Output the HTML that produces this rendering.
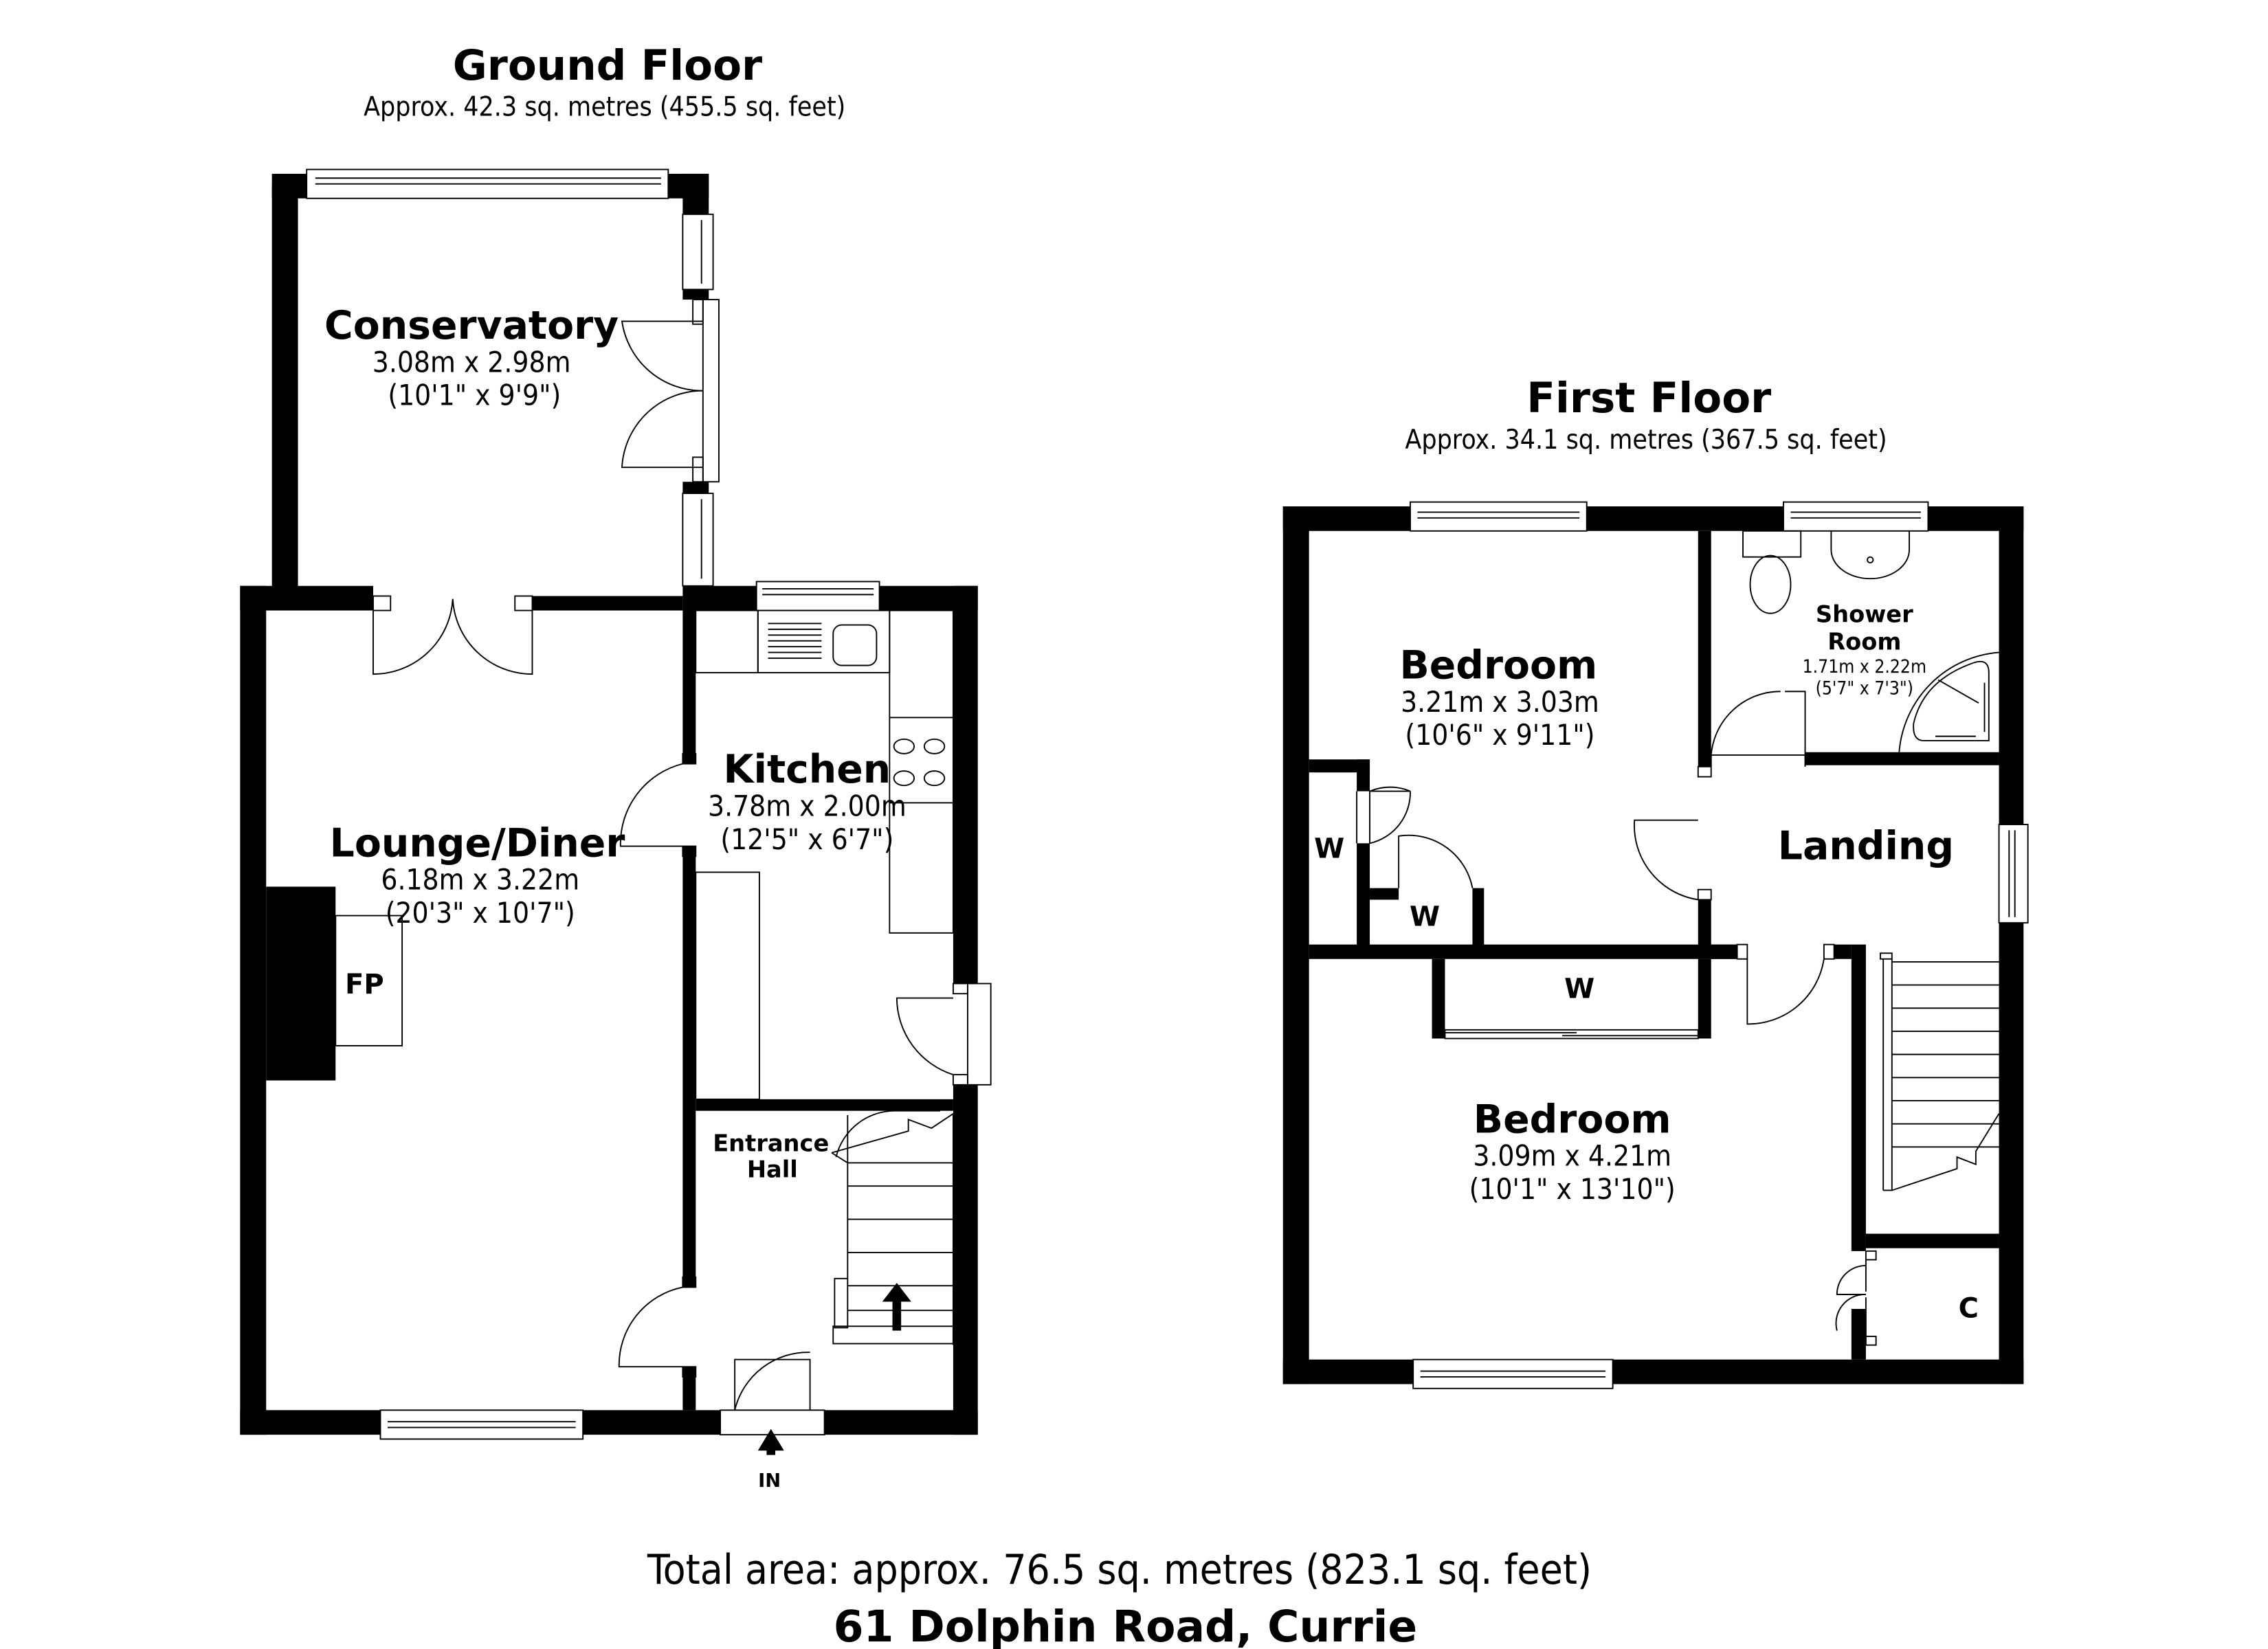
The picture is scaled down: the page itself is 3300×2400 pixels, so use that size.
<!DOCTYPE html>
<html><head><meta charset="utf-8"><style>
html,body{margin:0;padding:0;background:#fff}
svg{display:block}
text{font-family:"DejaVu Sans","Liberation Sans",sans-serif;fill:#000}
.b{font-weight:bold}
.c{font-family:"DejaVu Sans Condensed","DejaVu Sans","Liberation Sans",sans-serif}
</style></head><body>
<svg width="3300" height="2400" viewBox="0 0 1568 1140" xmlns="http://www.w3.org/2000/svg">
<rect width="1568" height="1140" fill="#fff"/>
<!-- titles -->
<text x="420" y="55" class="b" font-size="29" text-anchor="middle">Ground Floor</text>
<text x="418" y="80" class="c" font-size="18.5" text-anchor="middle">Approx. 42.3 sq. metres (455.5 sq. feet)</text>
<text x="1140" y="285" class="b" font-size="29" text-anchor="middle">First Floor</text>
<text x="1138" y="310" class="c" font-size="18.5" text-anchor="middle">Approx. 34.1 sq. metres (367.5 sq. feet)</text>
<text x="774" y="1095" class="c" font-size="28.5" text-anchor="middle">Total area: approx. 76.5 sq. metres (823.1 sq. feet)</text>
<text x="778" y="1135" class="b" font-size="30" text-anchor="middle">61 Dolphin Road, Currie</text>

<g fill="#000">
<rect x="188" y="127" width="18" height="290"/>
<rect x="188" y="120" width="24" height="17"/>
<rect x="462" y="120" width="28" height="17"/>
<rect x="472" y="120" width="18" height="28"/>
<rect x="472" y="200" width="18" height="7"/>
<rect x="472" y="333" width="18" height="8"/>
<rect x="166" y="405" width="18" height="587"/>
<rect x="166" y="405" width="92" height="17"/>
<rect x="368" y="412" width="104" height="10"/>
<rect x="472" y="405" width="51" height="17"/>
<rect x="608" y="405" width="68" height="17"/>
<rect x="659" y="405" width="17" height="275"/>
<rect x="659" y="750" width="17" height="242"/>
<rect x="166" y="975" width="97" height="17"/>
<rect x="403" y="975" width="95" height="17"/>
<rect x="570" y="975" width="106" height="17"/>
<rect x="472" y="422" width="9" height="106"/>
<rect x="472" y="585" width="9" height="305"/>
<rect x="472" y="945" width="9" height="30"/>
<rect x="481" y="760" width="178" height="8"/>
<rect x="184" y="613" width="48" height="134"/>

<rect x="887" y="350" width="88" height="17"/>
<rect x="1097" y="350" width="136" height="17"/>
<rect x="1333" y="350" width="66" height="17"/>
<rect x="887" y="350" width="18" height="607"/>
<rect x="1382" y="350" width="17" height="220"/>
<rect x="1382" y="638" width="17" height="319"/>
<rect x="887" y="940" width="90" height="17"/>
<rect x="1115" y="940" width="284" height="17"/>
<rect x="1174" y="367" width="9" height="163"/>
<rect x="1174" y="622" width="9" height="41"/>
<rect x="1248" y="520" width="134" height="9"/>
<rect x="905" y="653" width="296" height="10"/>
<rect x="1183" y="653" width="18" height="10"/>
<rect x="1268" y="653" width="12" height="10"/>
<rect x="1280" y="653" width="10" height="212"/>
<rect x="1280" y="905" width="10" height="35"/>
<rect x="1290" y="853" width="92" height="10"/>
<rect x="905" y="525" width="42" height="9"/>
<rect x="938" y="525" width="9" height="22"/>
<rect x="938" y="583" width="9" height="72"/>
<rect x="947" y="614" width="20" height="8"/>
<rect x="1018" y="614" width="8" height="42"/>
<rect x="990" y="663" width="9" height="55"/>
<rect x="1174" y="663" width="9" height="55"/>
<polygon points="533,988 524,1003 542,1003"/>
<rect x="530" y="1002" width="6" height="4"/>
<polygon points="620,887 610,900 630,900"/>
<rect x="617" y="899" width="6" height="21"/>
</g>

<g fill="none" stroke="#000" stroke-width="0.9">
<rect x="212" y="117" width="250" height="20"/>
<line x1="218" y1="123" x2="457" y2="123"/><line x1="218" y1="127" x2="457" y2="127"/>
<rect x="472" y="148" width="21" height="52"/><line x1="485" y1="152" x2="485" y2="196"/>
<rect x="472" y="341" width="21" height="64"/><line x1="485" y1="345" x2="485" y2="400"/>
<rect x="486" y="207" width="11" height="126"/>
<rect x="479" y="207" width="7" height="17"/><rect x="479" y="316" width="7" height="17"/>
<path d="M486,270 A56,56 0 0 1 430,222 L486,222"/>
<path d="M486,270 A56,56 0 0 0 430,323 L486,323"/>
<rect x="258" y="412" width="12" height="10"/><rect x="356" y="412" width="12" height="10"/>
<path d="M258,422 L258,466 A55,55 0 0 0 313,414 A55,55 0 0 0 368,466 L368,422"/>
<rect x="523" y="402" width="85" height="20"/><line x1="527" y1="407" x2="604" y2="407"/><line x1="527" y1="411" x2="604" y2="411"/>
<rect x="481" y="422" width="43" height="43"/>
<rect x="524" y="422" width="91" height="43"/>
<rect x="615" y="422" width="44" height="223"/>
<line x1="615" y1="496" x2="659" y2="496"/><line x1="615" y1="555" x2="659" y2="555"/>
<g><line x1="531" y1="431" x2="568" y2="431"/><line x1="531" y1="435" x2="568" y2="435"/><line x1="531" y1="439" x2="568" y2="439"/><line x1="531" y1="443" x2="568" y2="443"/><line x1="531" y1="447" x2="568" y2="447"/><line x1="531" y1="451" x2="568" y2="451"/><line x1="531" y1="455" x2="568" y2="455"/></g>
<rect x="576" y="432" width="30" height="28" rx="6"/>
<ellipse cx="625" cy="516" rx="7" ry="5"/><ellipse cx="646" cy="516" rx="7" ry="5"/><ellipse cx="625" cy="538" rx="7" ry="5"/><ellipse cx="646" cy="538" rx="7" ry="5"/>
<rect x="481" y="603" width="44" height="157"/>
<rect x="472" y="521" width="9" height="7"/><rect x="472" y="585" width="9" height="7"/>
<path d="M472,528 A57,57 0 0 0 429,585 L472,585"/>
<rect x="669" y="680" width="16" height="70"/>
<rect x="659" y="680" width="10" height="7"/><rect x="659" y="743" width="10" height="7"/>
<path d="M659,743 A56,56 0 0 1 620,690 L659,690"/>
<rect x="263" y="975" width="140" height="20"/><line x1="268" y1="983" x2="398" y2="983"/><line x1="268" y1="987" x2="398" y2="987"/>
<rect x="232" y="633" width="46" height="90"/>
<rect x="472" y="883" width="9" height="7"/><rect x="472" y="945" width="9" height="7"/>
<path d="M472,890 A55,55 0 0 0 428,945 L472,945"/>
<rect x="498" y="975" width="72" height="17"/>
<path d="M508,975 L508,940 L560,940 L560,975 M508,975 A52,52 0 0 1 560,935"/>
<rect x="576" y="917" width="83" height="12"/>
<rect x="577" y="884" width="9" height="34"/>
<line x1="586" y1="884" x2="586" y2="771"/>
<line x1="586" y1="820" x2="659" y2="820"/><line x1="586" y1="843" x2="659" y2="843"/><line x1="586" y1="866" x2="659" y2="866"/><line x1="586" y1="889" x2="659" y2="889"/><line x1="586" y1="906" x2="659" y2="906"/>
<path d="M575,797 L628,782 L628,774 L644,780 L659,770 L659,930"/>
<path d="M575,797 L586,804 L659,804"/>
<path d="M578,800 A42,42 0 0 1 620,768 L650,768"/>

<rect x="975" y="347" width="122" height="20"/><line x1="980" y1="354" x2="1092" y2="354"/><line x1="980" y1="358" x2="1092" y2="358"/>
<rect x="1233" y="347" width="100" height="20"/><line x1="1238" y1="354" x2="1328" y2="354"/><line x1="1238" y1="358" x2="1328" y2="358"/>
<rect x="977" y="940" width="138" height="20"/><line x1="982" y1="948" x2="1110" y2="948"/><line x1="982" y1="952" x2="1110" y2="952"/>
<rect x="1382" y="570" width="20" height="68"/><line x1="1389" y1="574" x2="1389" y2="634"/><line x1="1393" y1="574" x2="1393" y2="634"/>
<rect x="1205" y="367" width="40" height="18"/>
<ellipse cx="1224" cy="404" rx="14" ry="20"/>
<path d="M1266,367 L1266,380 A27,20 0 0 0 1320,380 L1320,367"/>
<circle cx="1293" cy="387" r="2"/>
<path d="M1382,451 A75,75 0 0 0 1313,520"/>
<path d="M1330,512 Q1322,512 1323,500 Q1330,470 1365,458 Q1375,455 1375,465 L1375,512 Z"/>
<path d="M1340,470 L1368,486 M1338,509 L1366,509 M1372,472 L1372,506"/>
<rect x="1174" y="530" width="9" height="7"/><rect x="1174" y="615" width="9" height="7"/>
<path d="M1183,530 L1183,522 L1248,522 L1248,530"/>
<path d="M1248,529 L1248,478 L1234,478 M1183,530 A48,48 0 0 1 1231,478"/>
<path d="M1174,622 A52,52 0 0 1 1130,567 L1174,567"/>
<path d="M938,547 L938,583 M947,547 A36,36 0 0 1 975,547 L947,547 L947,583 A36,36 0 0 0 975,547"/>
<path d="M967,614 L967,578 A45,45 0 0 1 1018,614"/>
<rect x="1201" y="653" width="7" height="10"/><rect x="1261" y="653" width="7" height="10"/>
<path d="M1208,663 L1208,708 A53,53 0 0 0 1261,663"/>
<rect x="999" y="712" width="175" height="6"/>
<line x1="999" y1="714" x2="1090" y2="714"/><line x1="1080" y1="716" x2="1174" y2="716"/>
<rect x="1300" y="659" width="8" height="4"/>
<line x1="1302" y1="663" x2="1302" y2="823"/><line x1="1308" y1="663" x2="1308" y2="823"/>
<line x1="1308" y1="665" x2="1382" y2="665"/>
<line x1="1308" y1="681" x2="1382" y2="681"/><line x1="1308" y1="697" x2="1382" y2="697"/><line x1="1308" y1="713" x2="1382" y2="713"/><line x1="1308" y1="729" x2="1382" y2="729"/><line x1="1308" y1="745" x2="1382" y2="745"/><line x1="1308" y1="761" x2="1382" y2="761"/><line x1="1308" y1="777" x2="1382" y2="777"/><line x1="1308" y1="793" x2="1382" y2="793"/>
<path d="M1302,823 L1308,823 L1353,808 L1353,800 L1366,805 L1366,796 L1382,770"/>
<rect x="1290" y="865" width="7" height="6"/><rect x="1290" y="924" width="7" height="6"/>
<path d="M1290,871 L1290,893 M1290,897 L1290,924 M1290,875 A20,20 0 0 0 1270,895 L1290,895 A20,20 0 0 0 1270,920"/>
</g>

<text x="326" y="234" class="b" font-size="27" text-anchor="middle">Conservatory</text>
<text x="326" y="257" class="c" font-size="20" text-anchor="middle">3.08m x 2.98m</text>
<text x="328" y="280" class="c" font-size="20" text-anchor="middle">(10'1" x 9'9")</text>
<text x="330" y="592" class="b" font-size="27" text-anchor="middle">Lounge/Diner</text>
<text x="332" y="615" class="c" font-size="20" text-anchor="middle">6.18m x 3.22m</text>
<text x="332" y="638" class="c" font-size="20" text-anchor="middle">(20'3" x 10'7")</text>
<text x="252" y="687" class="b" font-size="19" text-anchor="middle">FP</text>
<text x="558" y="541" class="b" font-size="27" text-anchor="middle">Kitchen</text>
<text x="558" y="564" class="c" font-size="20" text-anchor="middle">3.78m x 2.00m</text>
<text x="558" y="587" class="c" font-size="20" text-anchor="middle">(12'5" x 6'7")</text>
<text x="533" y="796" class="b" font-size="16" text-anchor="middle">Entrance</text>
<text x="534" y="814" class="b" font-size="16" text-anchor="middle">Hall</text>
<text x="532" y="1028" class="b" font-size="13" text-anchor="middle">IN</text>

<text x="1036" y="469" class="b" font-size="27" text-anchor="middle">Bedroom</text>
<text x="1037" y="492" class="c" font-size="20" text-anchor="middle">3.21m x 3.03m</text>
<text x="1037" y="515" class="c" font-size="20" text-anchor="middle">(10'6" x 9'11")</text>
<text x="1289" y="430" class="b" font-size="16" text-anchor="middle">Shower</text>
<text x="1289" y="449" class="b" font-size="16" text-anchor="middle">Room</text>
<text x="1289" y="465" class="c" font-size="12.5" text-anchor="middle">1.71m x 2.22m</text>
<text x="1289" y="480" class="c" font-size="12.5" text-anchor="middle">(5'7" x 7'3")</text>
<text x="1290" y="594" class="b" font-size="27" text-anchor="middle">Landing</text>
<text x="919" y="593" class="b" font-size="19" text-anchor="middle">W</text>
<text x="985" y="640" class="b" font-size="19" text-anchor="middle">W</text>
<text x="1092" y="690" class="b" font-size="19" text-anchor="middle">W</text>
<text x="1087" y="783" class="b" font-size="27" text-anchor="middle">Bedroom</text>
<text x="1087" y="806" class="c" font-size="20" text-anchor="middle">3.09m x 4.21m</text>
<text x="1087" y="829" class="c" font-size="20" text-anchor="middle">(10'1" x 13'10")</text>
<text x="1361" y="911" class="b" font-size="19" text-anchor="middle">C</text>
</svg>
</body></html>
